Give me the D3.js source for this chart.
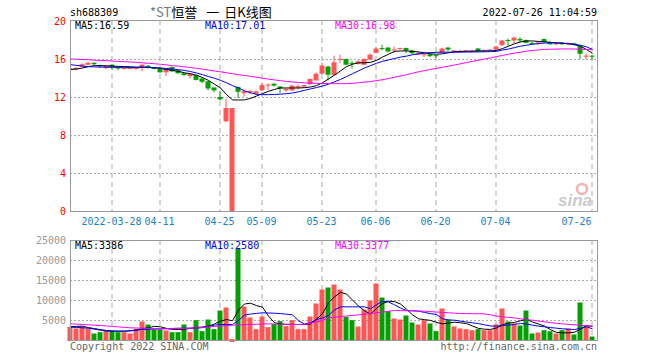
<!DOCTYPE html>
<html>
<head>
<meta charset="utf-8">
<script src="https://cdn.jsdelivr.net/npm/d3@7"></script>
<style>
  body { margin: 0; background: #fff; }
  svg text { font-family: "DejaVu Sans Mono", monospace; font-size: 10px; }
</style>
</head>
<body>
<svg id="chart" width="660" height="360"></svg>
<script>
// trading days shown
var dates = ['03-17','03-18','03-21','03-22','03-23','03-24','03-25','03-28','03-29','03-30','03-31',
  '04-01','04-06','04-07','04-08','04-11','04-12','04-13','04-14','04-15','04-18','04-19','04-20','04-21','04-22',
  '04-25','04-26','04-27','04-28','04-29','05-05','05-06','05-09','05-10','05-11','05-12','05-13',
  '05-16','05-17','05-18','05-19','05-20','05-23','05-24','05-25','05-26','05-27','05-30','05-31',
  '06-01','06-02','06-06','06-07','06-08','06-09','06-10','06-13','06-14','06-15','06-16','06-17',
  '06-20','06-21','06-22','06-23','06-24','06-27','06-28','06-29','06-30','07-01','07-04','07-05',
  '07-06','07-07','07-08','07-11','07-12','07-13','07-14','07-15','07-18','07-19','07-20','07-21',
  '07-22','07-25','07-26'];

var open  = [14.85,14.9,15.2,15.4,15.6,15.35,15.05,15.4,15.15,15.0,15.0,15.0,15.15,15.3,15.1,15.0,14.6,15.15,14.8,14.5,
  14.2,14.3,13.95,13.65,13.0,12.0,9.44,0,13.05,12.4,12.5,12.35,12.7,13.2,13.4,13.1,12.7,12.7,13.0,13.1,
  13.35,13.75,14.45,15.2,14.3,15.9,16.0,15.6,15.5,15.4,15.95,16.65,17.15,17.2,16.9,17.05,17.15,16.9,16.45,16.45,
  16.5,16.4,16.7,17.2,16.75,16.75,16.8,16.8,17.1,16.85,16.9,17.0,17.45,18.0,17.95,18.1,18.0,17.7,17.6,18.1,
  17.8,17.55,17.7,17.55,17.65,17.35,16.25,16.35];
var high  = [15.1,15.15,15.55,15.7,15.65,15.4,15.35,15.45,15.2,15.1,15.15,15.1,15.45,15.35,15.15,15.05,15.0,15.2,14.85,14.55,
  14.5,14.35,14.0,13.7,13.0,12.65,11.8,10.84,13.1,12.8,12.7,12.65,13.5,13.45,13.45,13.15,12.9,13.3,13.3,13.3,
  13.95,14.6,15.6,15.3,16.35,16.45,16.05,15.8,15.9,16.1,16.6,17.25,17.5,17.25,17.3,17.2,17.2,16.95,16.8,16.65,
  16.55,16.45,17.2,17.25,16.95,16.95,16.95,16.95,17.15,17.0,17.05,17.4,18.0,18.15,18.35,18.3,18.05,17.8,17.8,18.15,
  17.85,17.75,17.75,17.75,17.7,17.35,16.6,16.4];
var low   = [14.7,14.8,15.1,15.35,15.3,15.05,14.95,14.9,14.85,14.9,14.95,14.9,14.7,15.0,14.9,14.55,14.2,14.65,14.45,14.25,
  13.95,13.75,13.45,12.7,12.5,11.65,9.35,0,11.9,12.05,12.3,12.2,12.6,12.75,13.1,12.4,12.55,12.65,12.8,13.0,
  13.25,13.7,14.4,13.75,14.25,15.6,15.35,15.0,15.4,15.35,15.9,16.6,16.9,16.7,16.6,16.95,16.6,16.55,16.4,16.2,
  16.2,16.1,16.65,16.8,16.6,16.65,16.7,16.7,16.75,16.75,16.85,16.95,17.4,17.4,17.6,17.7,17.65,17.5,17.5,17.75,
  17.5,17.45,17.5,17.45,17.45,16.0,15.95,15.95];
var close = [15.0,15.05,15.45,15.6,15.45,15.25,15.3,15.15,15.0,15.05,15.05,15.05,15.4,15.1,14.95,14.6,14.95,14.7,14.5,14.3,
  14.45,13.8,13.6,12.9,12.7,11.75,10.84,10.84,12.55,12.6,12.65,12.6,13.25,13.3,13.2,12.9,12.85,13.2,13.15,13.25,
  13.9,14.45,15.3,14.35,15.65,16.0,15.4,15.5,15.75,16.0,16.45,17.1,17.1,16.8,17.0,17.15,16.9,16.6,16.6,16.5,
  16.3,16.3,17.1,17.0,16.9,16.85,16.9,16.9,16.8,16.95,17.0,17.3,17.95,17.9,18.25,17.95,17.7,17.6,17.75,17.8,
  17.55,17.7,17.55,17.7,17.5,16.55,16.35,16.25];

var ma5  = [14.9,14.95,15.05,15.2,15.3,15.3,15.28,15.25,15.22,15.2,15.18,15.15,15.15,15.12,15.08,15.02,14.9,14.8,14.7,14.55,
  14.45,14.3,14.05,13.75,13.35,12.95,12.25,11.7,11.68,11.7,11.85,12.1,12.35,12.6,12.8,12.95,12.95,12.95,12.95,12.98,
  13.05,13.2,13.5,13.9,14.3,14.75,15.2,15.45,15.6,15.6,15.65,15.85,16.2,16.5,16.8,16.85,16.85,16.8,16.75,16.65,
  16.55,16.5,16.55,16.65,16.75,16.8,16.82,16.82,16.85,16.85,16.85,16.9,17.1,17.35,17.6,17.8,17.9,17.9,17.85,17.8,
  17.75,17.7,17.65,17.6,17.5,17.35,17.0,16.59];
var ma10 = [15.4,15.33,15.25,15.2,15.17,15.15,15.14,15.13,15.12,15.12,15.1,15.1,15.1,15.1,15.08,15.05,15.0,14.95,14.88,14.8,
  14.68,14.53,14.35,14.15,13.98,13.75,13.5,13.2,12.95,12.65,12.45,12.28,12.25,12.25,12.27,12.3,12.35,12.42,12.55,12.7,
  12.85,13.0,13.15,13.35,13.6,13.85,14.15,14.45,14.75,15.05,15.3,15.55,15.75,15.9,16.05,16.2,16.3,16.45,16.55,16.62,
  16.68,16.7,16.72,16.72,16.72,16.72,16.73,16.74,16.75,16.76,16.78,16.8,16.95,17.05,17.2,17.35,17.45,17.55,17.62,17.68,
  17.7,17.7,17.68,17.62,17.55,17.45,17.28,17.01];
var ma30 = [16.0,15.98,15.95,15.92,15.88,15.85,15.82,15.78,15.75,15.72,15.68,15.64,15.6,15.55,15.5,15.45,15.38,15.3,15.25,15.18,
  15.1,15.02,14.93,14.83,14.74,14.65,14.55,14.45,14.35,14.27,14.18,14.08,13.98,13.88,13.8,13.72,13.64,13.58,13.53,13.49,
  13.46,13.44,13.42,13.41,13.4,13.4,13.41,13.44,13.5,13.56,13.63,13.72,13.82,13.95,14.08,14.22,14.35,14.5,14.65,14.78,
  14.9,15.02,15.13,15.25,15.37,15.5,15.62,15.75,15.88,16.0,16.12,16.25,16.38,16.5,16.62,16.72,16.82,16.9,16.96,17.0,
  17.03,17.05,17.06,17.06,17.05,17.03,17.0,16.98];

var volume = [3290,2875,3290,2875,1625,1960,2375,2210,1960,1960,1625,2790,4625,3875,2625,2625,2375,1960,1960,3875,
  1960,4960,2210,5125,2710,7375,8125,0,22790,8375,5625,2710,5875,3210,3960,4710,3460,4960,2710,2710,
  5875,9125,12625,13125,13875,12625,5790,4960,3375,7625,9875,14125,10625,7210,5375,5125,6125,4375,3875,4960,
  4125,2210,7875,5125,3375,2875,2710,2460,2710,2460,2460,3875,7875,4625,4125,3625,7375,1625,1875,2460,
  2210,1625,2460,2875,1375,9375,3460,875];
var vma5  = [3290,3400,3460,3100,2850,2600,2375,2250,2210,2210,2300,2460,2800,3100,3400,3300,2900,2650,2625,2700,
  2900,3150,3250,3460,4000,4700,5125,4800,7500,9000,9200,8600,8200,6000,4300,4000,3900,3875,3875,3875,
  4000,5200,6600,9300,10800,11900,11500,10000,8500,7300,6500,7900,9100,9700,9600,9000,7700,6300,5300,5100,
  4900,4400,4050,4250,4450,4300,4100,3500,2900,2700,2650,3000,3800,4200,4400,4800,5200,4500,4000,3500,
  2600,1900,1790,1790,1950,2700,3600,3386];
var vma10 = [3210,3150,3050,2960,2700,2450,2250,2210,2210,2210,2300,2500,2625,2700,2750,2790,2850,2900,2950,2960,
  2960,2960,3100,3400,3700,3875,3875,3875,4900,6200,6500,6650,6790,6750,6700,6600,6450,6300,4800,4000,
  4300,5100,5500,6125,7500,8290,8290,8290,8290,8290,7800,8800,9700,9500,8800,8000,7375,7300,7210,6900,
  6600,6375,5300,5000,4960,4700,4500,4290,4100,3800,3500,3460,3600,3710,3900,4125,4000,3700,3460,3300,
  3100,2960,2800,2700,2625,2900,3300,2800];
var vma30 = [4040,3960,3880,3800,3700,3620,3500,3400,3280,3150,3050,3000,2950,2900,2850,2800,2790,2800,2850,2900,
  2960,3040,3150,3250,3400,3500,3600,3700,3760,3820,3880,3940,4000,4040,4000,3960,3920,3880,3875,3950,
  4200,4500,4900,5540,5700,5850,6000,6150,6300,6450,6600,6800,7000,7200,7375,7350,7320,7290,7250,7210,
  7100,7000,6900,6800,6700,6625,6600,6580,6560,6540,6300,6000,5790,5650,5500,5300,5125,4950,4750,4550,
  4350,4150,4040,3900,3800,3680,3560,3460];

var priceTicks = [0, 4, 8, 12, 16, 20];
var volTicks = [5000, 10000, 15000, 20000, 25000];
var dateTicks = ['03-28','04-11','04-25','05-09','05-23','06-06','06-20','07-04','07-26'];
var dateTickLabels = ['2022-03-28','04-11','04-25','05-09','05-23','06-06','06-20','07-04','07-26'];
var priceLegend = ['MA5:16.59', 'MA10:17.01', 'MA30:16.98'];
var volLegend = ['MA5:3386', 'MA10:2580', 'MA30:3377'];

var RED = '#ff5555', GREEN = '#00a000';
var lineColors = ['#000000', '#0000ff', '#ff00ff'];

var svg = d3.select('#chart');
var L = 70, R = 597;
var pTop = 20, pBot = 211, vTop = 240, vBot = 340;

var x = d3.scaleBand().domain(dates).range([67.5, 67.5 + dates.length * 6]);
function cx(d){ return x(d) + 3; }
var y = d3.scaleLinear().domain([0, 20]).range([211, 21]);
var yv = d3.scaleLinear().domain([0, 25000]).range([340, 240]);

var bars = dates.map(function(d, i){
  return {date: d, o: open[i], h: high[i], l: low[i], c: close[i], v: volume[i], up: close[i] >= open[i]};
});

svg.append('defs').append('clipPath').attr('id', 'pclip')
  .append('rect').attr('x', L + 1).attr('y', pTop).attr('width', R - L - 1).attr('height', pBot - pTop + 1);

// grid
function hgrid(scale, ticks, skip){
  svg.append('g').selectAll('line').data(ticks.filter(function(t){ return skip.indexOf(t) < 0; }))
    .enter().append('line')
    .attr('x1', L).attr('x2', R)
    .attr('y1', function(t){ return Math.round(scale(t)) + 0.5; })
    .attr('y2', function(t){ return Math.round(scale(t)) + 0.5; })
    .attr('stroke', '#aaaaaa').attr('stroke-dasharray', '2,2');
}
hgrid(y, priceTicks, [0, 20]);
hgrid(yv, volTicks, [25000]);

[[pTop, pBot], [vTop, vBot]].forEach(function(p){
  svg.append('g').selectAll('line').data(dateTicks).enter().append('line')
    .attr('x1', function(d){ return cx(d) - 0.5; })
    .attr('x2', function(d){ return cx(d) - 0.5; })
    .attr('y1', p[0]).attr('y2', p[1])
    .attr('stroke', '#aaaaaa').attr('stroke-dasharray', '5,4');
});

// watermark
var wm = svg.append('g').attr('opacity', 0.6);
wm.append('circle').attr('cx', 582).attr('cy', 189).attr('r', 5)
  .attr('fill', 'none').attr('stroke', '#f08080').attr('stroke-width', 2.5);
wm.append('text').attr('x', 558).attr('y', 206).text('sina')
  .style('font-family', 'Liberation Sans').style('font-size', '17px')
  .style('font-weight', 'bold').style('font-style', 'italic').attr('fill', '#aaaaaa');

// candles
var cg = svg.append('g').attr('clip-path', 'url(#pclip)');
cg.selectAll('.wick').data(bars).enter().append('line')
  .attr('x1', function(d){ return cx(d.date) - 0.5; })
  .attr('x2', function(d){ return cx(d.date) - 0.5; })
  .attr('y1', function(d){ return y(d.h); })
  .attr('y2', function(d){ return y(d.l); })
  .attr('stroke', function(d){ return d.up ? RED : GREEN; });
cg.selectAll('.body').data(bars).enter().append('rect')
  .attr('x', function(d){ return cx(d.date) - 3; })
  .attr('width', 5)
  .attr('y', function(d){ return y(Math.max(d.o, d.c)); })
  .attr('height', function(d){ return Math.max(1, Math.abs(y(d.o) - y(d.c))); })
  .attr('fill', function(d){ return d.up ? RED : GREEN; });

var pline = d3.line().x(function(d, i){ return cx(dates[i]); }).y(function(d){ return y(d); });
[ma5, ma10, ma30].forEach(function(s, k){
  cg.append('path').attr('d', pline(s)).attr('fill', 'none')
    .attr('stroke', lineColors[k]).attr('stroke-width', 1);
});

// volume bars
svg.append('g').selectAll('rect').data(bars).enter().append('rect')
  .attr('x', function(d){ return cx(d.date) - 3; })
  .attr('width', 5)
  .attr('y', function(d){ return d.v > 0 ? yv(d.v) : vBot - 1; })
  .attr('height', function(d){ return d.v > 0 ? vBot + 1 - yv(d.v) : 3; })
  .attr('fill', function(d){ return d.up ? RED : GREEN; });

var vline = d3.line().x(function(d, i){ return cx(dates[i]); }).y(function(d){ return yv(d); });
[vma5, vma10, vma30].forEach(function(s, k){
  svg.append('path').attr('d', vline(s)).attr('fill', 'none')
    .attr('stroke', lineColors[k]).attr('stroke-width', 1);
});

// frames
svg.append('rect').attr('x', L + 0.5).attr('y', pTop + 0.5).attr('width', R - L).attr('height', pBot - pTop)
  .attr('fill', 'none').attr('stroke', '#999999');
svg.append('rect').attr('x', L + 0.5).attr('y', vTop + 0.5).attr('width', R - L).attr('height', vBot - vTop)
  .attr('fill', 'none').attr('stroke', '#999999');

// axis labels
svg.append('g').selectAll('text').data(priceTicks).enter().append('text')
  .attr('x', 66).attr('y', function(t){ return y(t) + 4; })
  .attr('text-anchor', 'end').attr('fill', '#ff0000')
  .text(function(t){ return t; });
svg.append('g').selectAll('text').data(volTicks).enter().append('text')
  .attr('x', 66).attr('y', function(t){ return yv(t) + 4; })
  .attr('text-anchor', 'end').attr('fill', '#999999')
  .text(function(t){ return t; });
svg.append('g').selectAll('text').data(dateTicks).enter().append('text')
  .attr('x', function(d){ return cx(d) - 1; })
  .attr('y', 225)
  .attr('text-anchor', function(d, i){ return i == dateTicks.length - 1 ? 'end' : 'middle'; })
  .attr('fill', '#1a7fc8')
  .text(function(d, i){ return dateTickLabels[i]; });

// legends
var legX = [75, 205, 335];
priceLegend.forEach(function(t, k){
  svg.append('text').attr('x', legX[k]).attr('y', 29).attr('fill', lineColors[k]).text(t);
});
volLegend.forEach(function(t, k){
  svg.append('text').attr('x', legX[k]).attr('y', 249).attr('fill', lineColors[k]).text(t);
});

// header
svg.append('text').attr('x', 70).attr('y', 16).attr('fill', '#000').text('sh688309');
var title = svg.append('text').attr('x', 150).attr('y', 17)
  .style('font-family', '"Noto Sans CJK SC", sans-serif').style('font-size', '13px');
title.append('tspan').attr('fill', '#777777').text('*ST');
title.append('tspan').attr('fill', '#000000').text('恒誉');
title.append('tspan').attr('fill', '#000000').attr('dx', 9).text('一');
title.append('tspan').attr('fill', '#000000').attr('dx', 5).text('日K线图');
svg.append('text').attr('x', 597).attr('y', 16).attr('text-anchor', 'end').attr('fill', '#000')
  .text('2022-07-26 11:04:59');

// footer
svg.append('text').attr('x', 70).attr('y', 350).attr('fill', '#666666').text('Copyright 2022 SINA.COM');
svg.append('text').attr('x', 597).attr('y', 350).attr('text-anchor', 'end').attr('fill', '#666666')
  .text('http://finance.sina.com.cn');
</script>
</body>
</html>
